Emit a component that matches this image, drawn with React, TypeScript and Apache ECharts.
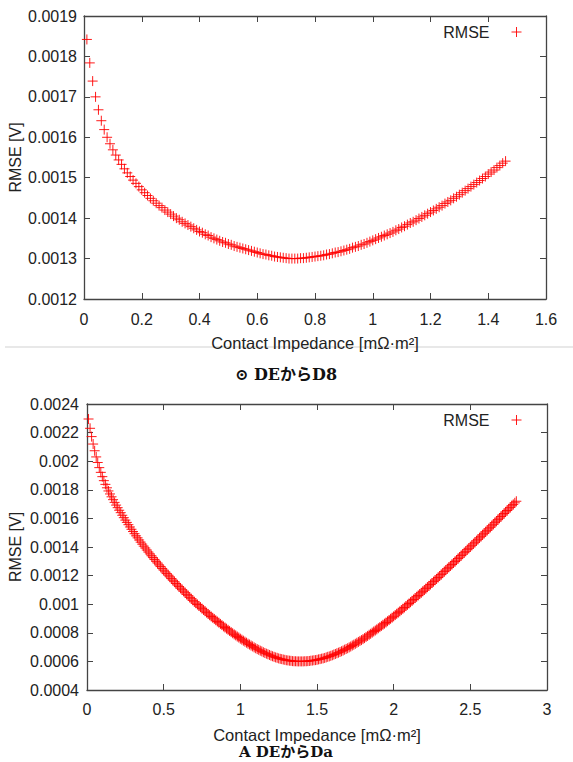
import React, { useEffect, useRef } from "react";
import * as echarts from "echarts";

// Sweep grid of the contact impedance (mΩ·m²)
const X_START = 0.01;
const X_STEP = 0.01;

// Chart (a): RMSE in µV, x = 0.01 … 1.46
const rmseA_uV = [
  1842, 1784, 1739, 1700, 1668, 1641, 1619, 1600, 1584, 1569,
  1556, 1544, 1533, 1522, 1512, 1503, 1494, 1486, 1478, 1470,
  1463, 1456, 1449, 1443, 1437, 1431, 1426, 1420, 1415, 1410,
  1405, 1400, 1396, 1391, 1387, 1383, 1379, 1375, 1371, 1367,
  1364, 1360, 1357, 1353, 1350, 1347, 1344, 1341, 1339, 1336,
  1334, 1331, 1329, 1327, 1325, 1323, 1321, 1319, 1317, 1315,
  1313, 1311, 1310, 1308, 1307, 1305, 1304, 1303, 1302, 1301,
  1300, 1300, 1300, 1300, 1301, 1301, 1302, 1303, 1304, 1305,
  1306, 1307, 1308, 1310, 1311, 1313, 1315, 1316, 1318, 1320,
  1322, 1324, 1327, 1329, 1331, 1334, 1336, 1339, 1342, 1345,
  1348, 1351, 1354, 1357, 1360, 1363, 1366, 1370, 1373, 1377,
  1380, 1384, 1388, 1391, 1395, 1399, 1403, 1407, 1411, 1415,
  1419, 1423, 1427, 1431, 1436, 1440, 1444, 1449, 1453, 1458,
  1463, 1468, 1473, 1478, 1483, 1488, 1493, 1498, 1503, 1509,
  1514, 1519, 1525, 1530, 1536, 1541,
];

// Chart (b): RMSE in µV, x = 0.01 … 2.80
const rmseB_uV = [
  2295, 2230, 2172, 2120, 2073, 2030, 1991, 1955, 1922, 1892,
  1864, 1838, 1814, 1792, 1771, 1751, 1731, 1712, 1693, 1675,
  1657, 1640, 1622, 1605, 1588, 1572, 1556, 1540, 1524, 1508,
  1493, 1478, 1464, 1449, 1434, 1420, 1406, 1393, 1379, 1365,
  1352, 1339, 1326, 1313, 1300, 1288, 1275, 1263, 1250, 1238,
  1226, 1214, 1203, 1191, 1179, 1168, 1157, 1145, 1134, 1123,
  1112, 1101, 1091, 1080, 1069, 1059, 1048, 1038, 1027, 1017,
  1007, 998, 988, 979, 969, 960, 951, 941, 932, 923,
  914, 905, 897, 888, 879, 871, 862, 854, 845, 837,
  829, 821, 813, 805, 797, 789, 782, 774, 767, 759,
  752, 745, 738, 731, 724, 718, 711, 705, 698, 692,
  686, 681, 675, 670, 664, 659, 654, 650, 645, 640,
  636, 632, 628, 625, 621, 618, 616, 613, 611, 608,
  607, 605, 604, 602, 601, 601, 600, 600, 600, 600,
  600, 601, 601, 602, 603, 605, 606, 608, 609, 611,
  614, 616, 619, 621, 624, 628, 632, 635, 639, 643,
  648, 652, 657, 661, 666, 671, 676, 682, 687, 692,
  698, 704, 711, 717, 723, 730, 736, 743, 749, 756,
  763, 771, 778, 786, 793, 801, 809, 816, 824, 832,
  840, 848, 856, 864, 872, 881, 889, 898, 906, 915,
  924, 933, 941, 950, 959, 968, 977, 987, 996, 1005,
  1014, 1024, 1033, 1043, 1052, 1061, 1071, 1080, 1090, 1099,
  1109, 1119, 1128, 1138, 1148, 1158, 1168, 1177, 1187, 1197,
  1207, 1217, 1228, 1238, 1248, 1258, 1268, 1278, 1288, 1298,
  1308, 1319, 1329, 1340, 1350, 1360, 1370, 1381, 1391, 1401,
  1412, 1422, 1433, 1443, 1454, 1464, 1475, 1485, 1496, 1506,
  1517, 1527, 1538, 1548, 1559, 1570, 1581, 1591, 1602, 1613,
  1624, 1634, 1645, 1655, 1666, 1677, 1688, 1698, 1709, 1720,
];

const X_NAME = "Contact Impedance [mΩ·m²]";
const Y_NAME = "RMSE [V]";
const SERIES_NAME = "RMSE";
const CAPTION_A = "⊙ DEからD8";
const CAPTION_B = "A DEからDa";

const AXIS_A = { xMin: 0, xMax: 1.6, xInterval: 0.2, yMin: 0.0012, yMax: 0.0019, yInterval: 0.0001 };
const AXIS_B = { xMin: 0, xMax: 3, xInterval: 0.5, yMin: 0.0004, yMax: 0.0024, yInterval: 0.0002 };

const toPoints = (vals: number[]) =>
  vals.map((v, i) => [+(X_START + i * X_STEP).toFixed(2), v / 1e6]);

const PLUS = "path://M5 0L5 10M0 5L10 5";
const FONT = '"Liberation Sans", Arial, Helvetica, sans-serif';
const TEXT_COLOR = "#222";
const AXIS_COLOR = "#444";
const RED = "#ff0000";

function xAxes(grid: number, a: typeof AXIS_A, labelMargin: number, nameGap: number) {
  const common = {
    type: "value",
    gridIndex: grid,
    min: a.xMin,
    max: a.xMax,
    interval: a.xInterval,
    splitLine: { show: false },
    axisLine: { show: true, onZero: false, lineStyle: { color: AXIS_COLOR, width: 1.3 } },
    axisTick: { show: true, inside: true, length: 6, lineStyle: { color: AXIS_COLOR, width: 1 } },
  };
  return [
    {
      ...common,
      position: "bottom",
      name: X_NAME,
      nameLocation: "middle",
      nameGap,
      nameMoveOverlap: false,
      nameTextStyle: { fontSize: 16.5, color: TEXT_COLOR, fontFamily: FONT },
      axisLabel: {
        margin: labelMargin,
        fontSize: 16,
        color: TEXT_COLOR,
        fontFamily: FONT,
        formatter: (v: number) => String(+v.toFixed(2)),
      },
    },
    { ...common, position: "top", axisLabel: { show: false } },
  ];
}

function yAxes(grid: number, a: typeof AXIS_A, labelMargin: number, nameGap: number) {
  const common = {
    type: "value",
    gridIndex: grid,
    min: a.yMin,
    max: a.yMax,
    interval: a.yInterval,
    splitLine: { show: false },
    axisLine: { show: true, onZero: false, lineStyle: { color: AXIS_COLOR, width: 1.3 } },
    axisTick: { show: true, inside: true, length: 6, lineStyle: { color: AXIS_COLOR, width: 1 } },
  };
  return [
    {
      ...common,
      position: "left",
      name: Y_NAME,
      nameLocation: "middle",
      nameRotate: 90,
      nameGap,
      nameMoveOverlap: false,
      nameTextStyle: { fontSize: 16, color: TEXT_COLOR, fontFamily: FONT },
      axisLabel: {
        margin: labelMargin,
        fontSize: 16,
        color: TEXT_COLOR,
        fontFamily: FONT,
        formatter: (v: number) => String(+v.toFixed(4)),
      },
    },
    { ...common, position: "right", axisLabel: { show: false } },
  ];
}

function legend(top: number) {
  return {
    data: [SERIES_NAME],
    top,
    right: 46,
    orient: "horizontal",
    align: "right",
    icon: PLUS,
    itemWidth: 44,
    itemHeight: 10,
    selectedMode: false,
    itemStyle: { color: "transparent", borderColor: RED, borderWidth: 1 },
    textStyle: { fontSize: 16, color: TEXT_COLOR, fontFamily: FONT },
  };
}

function scatter(xi: number, yi: number, vals: number[]) {
  return {
    type: "scatter",
    name: SERIES_NAME,
    xAxisIndex: xi,
    yAxisIndex: yi,
    data: toPoints(vals),
    symbol: PLUS,
    symbolSize: 10,
    itemStyle: { color: "transparent", borderColor: RED, borderWidth: 1, opacity: 0.9 },
    emphasis: { disabled: true },
  };
}

export default function App() {
  const ref = useRef<HTMLDivElement>(null);

  useEffect(() => {
    document.body.style.margin = "0";
    if (!ref.current) return;
    const chart = echarts.init(ref.current, undefined, { renderer: "svg" });
    chart.setOption({
      animation: false,
      backgroundColor: "#ffffff",
      textStyle: { fontFamily: FONT },
      grid: [
        { left: 84, top: 16, width: 462, height: 283, outerBoundsMode: "none", containLabel: false },
        { left: 87, top: 404, width: 460, height: 286, outerBoundsMode: "none", containLabel: false },
      ],
      xAxis: [...xAxes(0, AXIS_A, 12, 35), ...xAxes(1, AXIS_B, 11, 36)],
      yAxis: [...yAxes(0, AXIS_A, 7, 61), ...yAxes(1, AXIS_B, 8, 64)],
      legend: [legend(19), legend(407)],
      series: [scatter(0, 0, rmseA_uV), scatter(2, 2, rmseB_uV)],
      graphic: [
        {
          type: "rect",
          left: 5,
          top: 346,
          shape: { width: 568, height: 2 },
          style: { fill: "#e8e8e8" },
          silent: true,
        },
        {
          type: "text",
          x: 286,
          y: 374,
          style: {
            text: CAPTION_A,
            fontSize: 16,
            fontWeight: "bold",
            fontFamily: '"DejaVu Serif", "Noto Sans CJK JP", serif',
            fill: "#111",
            align: "center",
            verticalAlign: "middle",
          },
        },
        {
          type: "text",
          x: 286,
          y: 752,
          style: {
            text: CAPTION_B,
            fontSize: 15,
            fontWeight: "bold",
            fontFamily: '"DejaVu Serif", "Noto Sans CJK JP", serif',
            fill: "#111",
            align: "center",
            verticalAlign: "middle",
          },
        },
      ],
    });
    return () => chart.dispose();
  }, []);

  return <div ref={ref} style={{ width: 573, height: 762 }} />;
}
